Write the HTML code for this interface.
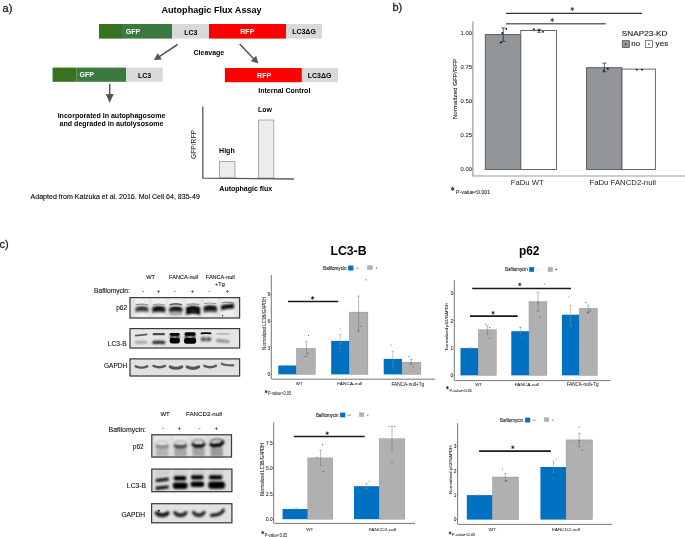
<!DOCTYPE html>
<html><head><meta charset="utf-8"><style>
html,body{margin:0;padding:0;background:#fff;}
body{width:685px;height:537px;overflow:hidden;font-family:"Liberation Sans",sans-serif;}
svg{display:block;will-change:transform;}
</style></head><body>
<svg width="685" height="537" viewBox="0 0 685 537" font-family="Liberation Sans, sans-serif">
<defs>
<filter id="b1" filterUnits="userSpaceOnUse" x="0" y="0" width="685" height="537"><feGaussianBlur stdDeviation="0.9"/></filter>
<filter id="b2" filterUnits="userSpaceOnUse" x="0" y="0" width="685" height="537"><feGaussianBlur stdDeviation="1.4"/></filter>
<filter id="b03" filterUnits="userSpaceOnUse" x="0" y="0" width="685" height="537"><feGaussianBlur stdDeviation="0.45"/></filter>
<linearGradient id="gd" x1="0" y1="0" x2="0" y2="1"><stop offset="0" stop-color="#000"/><stop offset="0.55" stop-color="#111"/><stop offset="1" stop-color="#666"/></linearGradient>
<linearGradient id="gm" x1="0" y1="0" x2="0" y2="1"><stop offset="0" stop-color="#222"/><stop offset="0.5" stop-color="#333"/><stop offset="1" stop-color="#888"/></linearGradient>
<filter id="b05" filterUnits="userSpaceOnUse" x="0" y="0" width="685" height="537"><feGaussianBlur stdDeviation="0.8"/></filter>
</defs>
<rect x="0" y="0" width="685" height="537" fill="#fff"/>
<text x="2.6" y="11.6" font-size="11" text-anchor="start" fill="#222" stroke="#222" stroke-width="0.3">a)</text>
<text x="211.5" y="12.5" font-size="9.1" font-weight="bold" text-anchor="middle" fill="#000">Autophagic Flux Assay</text>
<rect x="99" y="24" width="23" height="14.6" fill="#38721f"/>
<rect x="122" y="24" width="50" height="14.6" fill="#3a7a3e"/>
<rect x="172" y="24" width="37" height="14.6" fill="#d9d9d9"/>
<rect x="209" y="24" width="77" height="14.6" fill="#ff0000"/>
<rect x="286" y="24" width="36" height="14.6" fill="#d9d9d9"/>
<text x="133" y="34" font-size="7" font-weight="bold" text-anchor="middle" fill="#fff">GFP</text>
<text x="190.8" y="35" font-size="7" font-weight="bold" text-anchor="middle" fill="#000">LC3</text>
<text x="247.3" y="34" font-size="7" font-weight="bold" text-anchor="middle" fill="#fff">RFP</text>
<text x="304" y="34.2" font-size="7" font-weight="bold" text-anchor="middle" fill="#000">LC3ΔG</text>
<line x1="177.6" y1="44.5" x2="158.9117358078528" y2="56.801135923945004" stroke="#555" stroke-width="1.5"/>
<polygon points="153.9,60.1 157.69,53.12 161.81,59.38" fill="#555"/>
<line x1="239.7" y1="44.1" x2="254.14759816210315" y2="59.169000233591454" stroke="#555" stroke-width="1.5"/>
<polygon points="258.3,63.5 250.75,61.04 256.16,55.85" fill="#555"/>
<text x="208.9" y="55" font-size="7" font-weight="bold" text-anchor="middle" fill="#000">Cleavage</text>
<rect x="52.6" y="67.6" width="23.7" height="14.2" fill="#38721f"/>
<rect x="76.3" y="67.6" width="49.9" height="14.2" fill="#3a7a3e"/>
<rect x="126.2" y="67.6" width="36.5" height="14.2" fill="#d9d9d9"/>
<text x="86.8" y="76.7" font-size="7" font-weight="bold" text-anchor="middle" fill="#fff">GFP</text>
<text x="144.6" y="77.5" font-size="7" font-weight="bold" text-anchor="middle" fill="#000">LC3</text>
<rect x="224.9" y="68" width="77.0" height="14.2" fill="#ff0000"/>
<rect x="301.9" y="68" width="36.1" height="14.2" fill="#d9d9d9"/>
<text x="264.1" y="78" font-size="7" font-weight="bold" text-anchor="middle" fill="#fff">RFP</text>
<text x="319.6" y="77.8" font-size="7" font-weight="bold" text-anchor="middle" fill="#000">LC3ΔG</text>
<text x="284.3" y="92.6" font-size="7" font-weight="bold" text-anchor="middle" fill="#000">Internal Control</text>
<line x1="109.7" y1="83.7" x2="109.7" y2="94.9" stroke="#555" stroke-width="1.5"/>
<polygon points="109.7,102.9 105.80,93.90 113.60,93.90" fill="#555"/>
<text x="111.5" y="118" font-size="7.05" font-weight="bold" text-anchor="middle" fill="#000">Incorporated in autophagosome</text>
<text x="111.5" y="126" font-size="7.05" font-weight="bold" text-anchor="middle" fill="#000">and degraded in autolysosome</text>
<rect x="219.5" y="161.4" width="15.5" height="16.6" fill="#ececec" stroke="#999" stroke-width="0.8"/>
<rect x="258.4" y="120" width="15.4" height="58" fill="#ececec" stroke="#999" stroke-width="0.8"/>
<polyline points="202.8,106.4 202.8,178.2 293.9,179" fill="none" stroke="#5a5a5a" stroke-width="1.3"/>
<text x="226.9" y="152.5" font-size="7" font-weight="bold" text-anchor="middle" fill="#000">High</text>
<text x="264.9" y="111.7" font-size="7" font-weight="bold" text-anchor="middle" fill="#000">Low</text>
<text x="196.0" y="144.5" font-size="6.7" text-anchor="middle" fill="#222" transform="rotate(-90 196.0 144.5)">GFP/RFP</text>
<text x="245.8" y="190.9" font-size="7" font-weight="bold" text-anchor="middle" fill="#000">Autophagic flux</text>
<text x="115.2" y="199.1" font-size="7.05" text-anchor="middle" fill="#000" stroke="#000" stroke-width="0.1">Adapted from Kaizuka et al. 2016. Mol Cell 64, 835-49</text>
<text x="392.4" y="11.4" font-size="11" text-anchor="start" fill="#222" stroke="#222" stroke-width="0.3">b)</text>
<text x="466.3" y="171.0" font-size="5.8" text-anchor="middle" fill="#1a1a1a" textLength="11.4" lengthAdjust="spacingAndGlyphs" stroke="#1a1a1a" stroke-width="0.05">0.00</text>
<line x1="471.0" y1="169.0" x2="473" y2="169.0" stroke="#555" stroke-width="0.6"/>
<text x="466.3" y="136.95" font-size="5.8" text-anchor="middle" fill="#1a1a1a" textLength="11.4" lengthAdjust="spacingAndGlyphs" stroke="#1a1a1a" stroke-width="0.05">0.25</text>
<line x1="471.0" y1="134.95" x2="473" y2="134.95" stroke="#555" stroke-width="0.6"/>
<text x="466.3" y="102.9" font-size="5.8" text-anchor="middle" fill="#1a1a1a" textLength="11.4" lengthAdjust="spacingAndGlyphs" stroke="#1a1a1a" stroke-width="0.05">0.50</text>
<line x1="471.0" y1="100.9" x2="473" y2="100.9" stroke="#555" stroke-width="0.6"/>
<text x="466.3" y="68.85000000000001" font-size="5.8" text-anchor="middle" fill="#1a1a1a" textLength="11.4" lengthAdjust="spacingAndGlyphs" stroke="#1a1a1a" stroke-width="0.05">0.75</text>
<line x1="471.0" y1="66.85000000000001" x2="473" y2="66.85000000000001" stroke="#555" stroke-width="0.6"/>
<text x="466.3" y="34.80000000000001" font-size="5.8" text-anchor="middle" fill="#1a1a1a" textLength="11.4" lengthAdjust="spacingAndGlyphs" stroke="#1a1a1a" stroke-width="0.05">1.00</text>
<line x1="471.0" y1="32.80000000000001" x2="473" y2="32.80000000000001" stroke="#555" stroke-width="0.6"/>
<polyline points="472.9,21.2 472.9,176 685,176" fill="none" stroke="#9a9a9a" stroke-width="1.2"/>
<rect x="485.3" y="34.6" width="35.5" height="134.9" fill="#929699" stroke="#50555a" stroke-width="0.9"/>
<rect x="520.8" y="30.5" width="35.7" height="139.0" fill="#fff" stroke="#5a5a5a" stroke-width="0.9"/>
<rect x="586.6" y="67.7" width="35.4" height="101.8" fill="#929699" stroke="#50555a" stroke-width="0.9"/>
<rect x="622" y="69.1" width="33.4" height="100.4" fill="#fff" stroke="#5a5a5a" stroke-width="0.9"/>
<line x1="503.3" y1="27.9" x2="503.3" y2="41.4" stroke="#222" stroke-width="0.7"/>
<line x1="501.2" y1="27.9" x2="505.40000000000003" y2="27.9" stroke="#222" stroke-width="0.7"/>
<line x1="501.2" y1="41.4" x2="505.40000000000003" y2="41.4" stroke="#222" stroke-width="0.7"/>
<circle cx="506.3" cy="28.9" r="0.9" fill="#000"/>
<circle cx="502.3" cy="32.9" r="0.9" fill="#000"/>
<circle cx="500.8" cy="42.6" r="0.9" fill="#000"/>
<line x1="539.1" y1="29.3" x2="539.1" y2="32.3" stroke="#222" stroke-width="0.7"/>
<line x1="537.0" y1="29.3" x2="541.2" y2="29.3" stroke="#222" stroke-width="0.7"/>
<line x1="537.0" y1="32.3" x2="541.2" y2="32.3" stroke="#222" stroke-width="0.7"/>
<circle cx="533.9" cy="29.2" r="0.9" fill="#000"/>
<circle cx="543" cy="31.8" r="0.9" fill="#000"/>
<circle cx="539" cy="30.5" r="0.7" fill="#000"/>
<line x1="604.4" y1="63.1" x2="604.4" y2="71.8" stroke="#222" stroke-width="0.7"/>
<line x1="602.3" y1="63.1" x2="606.5" y2="63.1" stroke="#222" stroke-width="0.7"/>
<line x1="602.3" y1="71.8" x2="606.5" y2="71.8" stroke="#222" stroke-width="0.7"/>
<circle cx="607.8" cy="68.7" r="0.9" fill="#000"/>
<circle cx="603.5" cy="70.5" r="0.7" fill="#000"/>
<circle cx="636.8" cy="69.7" r="0.9" fill="#000"/>
<circle cx="642" cy="69.7" r="0.9" fill="#000"/>
<line x1="506.1" y1="13.3" x2="642.1" y2="13.3" stroke="#333" stroke-width="1.2"/>
<line x1="506.0" y1="23.7" x2="605.7" y2="23.7" stroke="#6a6a6a" stroke-width="1.4"/>
<line x1="572.30" y1="7.30" x2="572.30" y2="10.70" stroke="#222" stroke-width="0.7" stroke-linecap="round"/>
<line x1="570.83" y1="8.15" x2="573.77" y2="9.85" stroke="#222" stroke-width="0.7" stroke-linecap="round"/>
<line x1="573.77" y1="8.15" x2="570.83" y2="9.85" stroke="#222" stroke-width="0.7" stroke-linecap="round"/>
<line x1="552.30" y1="18.30" x2="552.30" y2="21.70" stroke="#222" stroke-width="0.7" stroke-linecap="round"/>
<line x1="550.83" y1="19.15" x2="553.77" y2="20.85" stroke="#222" stroke-width="0.7" stroke-linecap="round"/>
<line x1="553.77" y1="19.15" x2="550.83" y2="20.85" stroke="#222" stroke-width="0.7" stroke-linecap="round"/>
<text x="644.6" y="35.6" font-size="8.1" text-anchor="middle" fill="#222" textLength="45.6" lengthAdjust="spacingAndGlyphs" stroke="#222" stroke-width="0.12">SNAP23-KD</text>
<rect x="622.2" y="40.7" width="7.3" height="6.9" fill="#929699" stroke="#333" stroke-width="0.6"/>
<circle cx="625.85" cy="44.15" r="0.7" fill="#000"/>
<text x="635.7" y="46" font-size="8.1" text-anchor="middle" fill="#222" textLength="8.8" lengthAdjust="spacingAndGlyphs" stroke="#222" stroke-width="0.12">no</text>
<rect x="645.4" y="40.7" width="7.1" height="6.9" fill="#fff" stroke="#333" stroke-width="0.6"/>
<circle cx="648.95" cy="44.15" r="0.7" fill="#000"/>
<text x="661.9" y="46" font-size="8.1" text-anchor="middle" fill="#222" textLength="12.6" lengthAdjust="spacingAndGlyphs" stroke="#222" stroke-width="0.12">yes</text>
<text x="457.3" y="89" font-size="6.2" text-anchor="middle" fill="#222" transform="rotate(-90 457.3 89)" textLength="60.6" lengthAdjust="spacingAndGlyphs" stroke="#222" stroke-width="0.1">Normalized GFP/RFP</text>
<text x="527.2" y="184.6" font-size="7.6" text-anchor="middle" fill="#222" textLength="32.8" lengthAdjust="spacingAndGlyphs">FaDu WT</text>
<text x="622.7" y="184.6" font-size="7.7" text-anchor="middle" fill="#222" textLength="66.6" lengthAdjust="spacingAndGlyphs">FaDu FANCD2-null</text>
<line x1="452.70" y1="187.10" x2="452.70" y2="190.50" stroke="#111" stroke-width="0.8" stroke-linecap="round"/>
<line x1="451.23" y1="187.95" x2="454.17" y2="189.65" stroke="#111" stroke-width="0.8" stroke-linecap="round"/>
<line x1="454.17" y1="187.95" x2="451.23" y2="189.65" stroke="#111" stroke-width="0.8" stroke-linecap="round"/>
<text x="473.1" y="193.5" font-size="6.0" text-anchor="middle" fill="#111" textLength="34.2" lengthAdjust="spacingAndGlyphs" stroke="#111" stroke-width="0.05">P-value&lt;0.001</text>
<text x="-0.5" y="248.1" font-size="11" text-anchor="start" fill="#222" stroke="#222" stroke-width="0.3">c)</text>
<text x="150.6" y="279.1" font-size="5.6" text-anchor="middle" fill="#111" stroke="#111" stroke-width="0.1">WT</text>
<text x="183.6" y="279.3" font-size="5.55" text-anchor="middle" fill="#111" stroke="#111" stroke-width="0.1">FANCA-null</text>
<text x="220.3" y="279.3" font-size="5.55" text-anchor="middle" fill="#111" stroke="#111" stroke-width="0.1">FANCA-null</text>
<text x="219.9" y="285.8" font-size="5.55" text-anchor="middle" fill="#111" stroke="#111" stroke-width="0.1">+Tg</text>
<text x="112.0" y="293" font-size="6.65" text-anchor="middle" fill="#111" stroke="#111" stroke-width="0.1">Bafilomycin:</text>
<text x="142.9" y="293.1" font-size="6" text-anchor="middle" fill="#111" stroke="#111" stroke-width="0.1">-</text>
<text x="158.5" y="293.1" font-size="6" text-anchor="middle" fill="#111" stroke="#111" stroke-width="0.1">+</text>
<text x="174.8" y="293.1" font-size="6" text-anchor="middle" fill="#111" stroke="#111" stroke-width="0.1">-</text>
<text x="192.4" y="293.1" font-size="6" text-anchor="middle" fill="#111" stroke="#111" stroke-width="0.1">+</text>
<text x="209.6" y="293.1" font-size="6" text-anchor="middle" fill="#111" stroke="#111" stroke-width="0.1">-</text>
<text x="227.4" y="293.1" font-size="6" text-anchor="middle" fill="#111" stroke="#111" stroke-width="0.1">+</text>
<text x="121.6" y="309.8" font-size="6.5" text-anchor="middle" fill="#111" stroke="#111" stroke-width="0.1">p62</text>
<text x="117.2" y="345.8" font-size="6.6" text-anchor="middle" fill="#111" stroke="#111" stroke-width="0.1">LC3-B</text>
<text x="115.6" y="368.3" font-size="6.55" text-anchor="middle" fill="#111" stroke="#111" stroke-width="0.1">GAPDH</text>
<rect x="129.4" y="297" width="110.8" height="21.6" fill="#e2e2e2"/>
<rect x="135.1" y="298" width="13.6" height="19.6" fill="#efefef" filter="url(#b1)"/>
<rect x="152.0" y="298" width="13.6" height="19.6" fill="#efefef" filter="url(#b1)"/>
<rect x="169.0" y="298" width="13.6" height="19.6" fill="#efefef" filter="url(#b1)"/>
<rect x="186.29999999999998" y="298" width="13.6" height="19.6" fill="#efefef" filter="url(#b1)"/>
<rect x="203.5" y="298" width="13.6" height="19.6" fill="#efefef" filter="url(#b1)"/>
<rect x="220.7" y="298" width="13.6" height="19.6" fill="#efefef" filter="url(#b1)"/>
<rect x="135.9" y="306" width="12.0" height="6.5" fill="#aaa" fill-opacity="0.5" filter="url(#b1)"/>
<path d="M135.65,304.20 Q141.90,303.00 148.15,304.20 L148.15,305.40 Q141.90,304.20 135.65,305.40 Z" fill="#888" fill-opacity="0.9" filter="url(#b03)"/>
<path d="M135.40,308.00 Q141.90,305.20 148.40,308.00 L148.40,312.60 Q141.90,309.80 135.40,312.60 Z" fill="url(#gm)" fill-opacity="1" filter="url(#b05)"/>
<rect x="152.8" y="306" width="12.0" height="7" fill="#999" fill-opacity="0.5" filter="url(#b1)"/>
<path d="M152.80,304.20 Q158.80,303.00 164.80,304.20 L164.80,305.40 Q158.80,304.20 152.80,305.40 Z" fill="#999" fill-opacity="0.9" filter="url(#b03)"/>
<path d="M152.30,307.70 Q158.80,304.90 165.30,307.70 L165.30,313.10 Q158.80,310.30 152.30,313.10 Z" fill="url(#gd)" fill-opacity="1" filter="url(#b05)"/>
<rect x="169.8" y="309" width="12.0" height="6.5" fill="#777" fill-opacity="0.6" filter="url(#b1)"/>
<path d="M169.55,303.90 Q175.80,302.10 182.05,303.90 L182.05,305.70 Q175.80,303.90 169.55,305.70 Z" fill="#555" fill-opacity="0.9" filter="url(#b03)"/>
<path d="M169.30,308.00 Q175.80,305.20 182.30,308.00 L182.30,312.60 Q175.80,309.80 169.30,312.60 Z" fill="url(#gd)" fill-opacity="1" filter="url(#b05)"/>
<path d="M186.85,303.80 Q193.10,302.60 199.35,303.80 L199.35,305.00 Q193.10,303.80 186.85,305.00 Z" fill="#888" fill-opacity="0.9" filter="url(#b03)"/>
<path d="M186.10,307.30 Q193.10,304.30 200.10,307.30 L200.10,314.90 Q193.10,311.90 186.10,314.90 Z" fill="#050505" fill-opacity="1" filter="url(#b05)"/>
<ellipse cx="193.1" cy="310.5" rx="4.5" ry="1.3" fill="#3a3a3a" fill-opacity="0.8" filter="url(#b05)"/>
<rect x="204.3" y="306" width="12.0" height="7" fill="#888" fill-opacity="0.5" filter="url(#b1)"/>
<path d="M204.30,303.00 Q210.30,301.80 216.30,303.00 L216.30,304.20 Q210.30,303.00 204.30,304.20 Z" fill="#888" fill-opacity="0.9" filter="url(#b03)"/>
<path d="M203.80,306.80 Q210.30,304.20 216.80,306.80 L216.80,312.60 Q210.30,310.00 203.80,312.60 Z" fill="url(#gd)" fill-opacity="1" filter="url(#b05)"/>
<path d="M221.50,302.20 Q227.50,301.00 233.50,302.20 L233.50,303.40 Q227.50,302.20 221.50,303.40 Z" fill="#888" fill-opacity="0.9" filter="url(#b03)"/>
<path d="M221.00,305.50 Q227.50,303.40 234.00,303.70 L234.00,308.50 Q227.50,308.20 221.00,310.30 Z" fill="#0a0a0a" fill-opacity="1" filter="url(#b05)"/>
<circle cx="222.6" cy="315.8" r="0.7" fill="#333"/>
<rect x="130.0" y="297.6" width="109.6" height="20.4" fill="none" stroke="#3a3a3a" stroke-width="1.2"/>
<rect x="129.4" y="328.0" width="110.8" height="20.6" fill="#e6e6e6"/>
<path d="M134.95,334.70 Q141.20,334.50 147.45,333.50 L147.45,335.30 Q141.20,336.30 134.95,336.50 Z" fill="#555" fill-opacity="0.95" filter="url(#b03)"/>
<path d="M135.20,341.00 Q141.20,341.00 147.20,341.00 L147.20,343.80 Q141.20,343.80 135.20,343.80 Z" fill="#999" fill-opacity="0.9" filter="url(#b05)"/>
<path d="M152.80,333.00 Q158.80,333.00 164.80,333.00 L164.80,335.20 Q158.80,335.20 152.80,335.20 Z" fill="#444" fill-opacity="0.95" filter="url(#b03)"/>
<path d="M152.55,341.10 Q158.80,340.50 165.05,341.10 L165.05,344.10 Q158.80,343.50 152.55,344.10 Z" fill="#1a1a1a" fill-opacity="1" filter="url(#b05)"/>
<rect x="170.2" y="334.5" width="9.0" height="6.0" rx="0.5" ry="0.5" fill="#2a2a2a" filter="url(#b05)"/>
<ellipse cx="174.7" cy="337.4" rx="2.6" ry="1.5" fill="#b0b0b0" fill-opacity="1" filter="url(#b05)"/>
<rect x="169.8" y="332.9" width="9.8" height="2.8" rx="1.4" ry="1.4" fill="#000" filter="url(#b03)"/>
<rect x="169.8" y="337.9" width="10.0" height="5.6" rx="2.2" ry="2.2" fill="#000" filter="url(#b03)"/>
<rect x="185.0" y="334.5" width="10.2" height="6.0" rx="0.5" ry="0.5" fill="#2a2a2a" filter="url(#b05)"/>
<ellipse cx="190.1" cy="337.2" rx="3.4" ry="1.3" fill="#c0c0c0" fill-opacity="1" filter="url(#b05)"/>
<rect x="184.5" y="332.3" width="11.2" height="3.4" rx="1.6" ry="1.6" fill="#000" filter="url(#b03)"/>
<rect x="184.0" y="338.0" width="12.2" height="5.8" rx="2.4" ry="2.4" fill="#000" filter="url(#b03)"/>
<path d="M200.75,332.60 Q206.00,332.00 211.25,332.60 L211.25,334.30 Q206.00,333.70 200.75,334.30 Z" fill="#000" fill-opacity="1" filter="url(#b03)"/>
<ellipse cx="203.4" cy="339.2" rx="2.7" ry="2.2" fill="#555" fill-opacity="1" filter="url(#b05)"/>
<ellipse cx="208.6" cy="339.2" rx="2.7" ry="2.2" fill="#5a5a5a" fill-opacity="1" filter="url(#b05)"/>
<path d="M216.55,333.20 Q222.80,333.20 229.05,333.20 L229.05,334.70 Q222.80,334.70 216.55,334.70 Z" fill="#aaa" fill-opacity="0.9" filter="url(#b03)"/>
<path d="M216.30,339.10 Q222.80,339.70 229.30,340.30 L229.30,343.10 Q222.80,342.50 216.30,341.90 Z" fill="#777" fill-opacity="0.85" filter="url(#b05)"/>
<rect x="130.0" y="328.6" width="109.6" height="19.4" fill="none" stroke="#3a3a3a" stroke-width="1.2"/>
<rect x="129.4" y="358.3" width="110.8" height="18.3" fill="#e1e1e1"/>
<path d="M135.75,366.30 C139.20,367.84 143.80,367.84 147.25,366.30" fill="none" stroke="#5a5a5a" stroke-width="2.4" stroke-linecap="round" filter="url(#b03)"/>
<path d="M153.45,365.90 C156.90,367.44 161.50,367.44 164.95,365.90" fill="none" stroke="#5a5a5a" stroke-width="2.4" stroke-linecap="round" filter="url(#b03)"/>
<path d="M170.25,366.80 C173.70,368.56 178.30,368.56 181.75,366.80" fill="none" stroke="#555" stroke-width="3.0" stroke-linecap="round" filter="url(#b03)"/>
<path d="M187.15,366.90 C190.60,368.66 195.20,368.66 198.65,366.90" fill="none" stroke="#555" stroke-width="3.0" stroke-linecap="round" filter="url(#b03)"/>
<path d="M204.35,365.90 C207.80,367.44 212.40,367.44 215.85,365.90" fill="none" stroke="#5a5a5a" stroke-width="2.5" stroke-linecap="round" filter="url(#b03)"/>
<path d="M221.75,363.70 C225.20,365.38 229.80,365.38 233.25,365.30" fill="none" stroke="#5f5f5f" stroke-width="2.2" stroke-linecap="round" filter="url(#b03)"/>
<rect x="130.0" y="358.90000000000003" width="109.6" height="17.1" fill="none" stroke="#3a3a3a" stroke-width="1.2"/>
<text x="165.1" y="416.1" font-size="6.05" text-anchor="middle" fill="#111" stroke="#111" stroke-width="0.1">WT</text>
<text x="204.0" y="416.1" font-size="6.15" text-anchor="middle" fill="#111" stroke="#111" stroke-width="0.1">FANCD2-null</text>
<text x="127.3" y="431.7" font-size="6.95" text-anchor="middle" fill="#111" stroke="#111" stroke-width="0.1">Bafilomycin:</text>
<text x="162.7" y="429.5" font-size="6.2" text-anchor="middle" fill="#111" stroke="#111" stroke-width="0.1">-</text>
<text x="179.3" y="429.5" font-size="6.2" text-anchor="middle" fill="#111" stroke="#111" stroke-width="0.1">+</text>
<text x="199.6" y="429.5" font-size="6.2" text-anchor="middle" fill="#111" stroke="#111" stroke-width="0.1">-</text>
<text x="216.2" y="429.5" font-size="6.2" text-anchor="middle" fill="#111" stroke="#111" stroke-width="0.1">+</text>
<text x="138.2" y="449.2" font-size="6.5" text-anchor="middle" fill="#111" stroke="#111" stroke-width="0.1">p62</text>
<text x="136.5" y="487.8" font-size="6.8" text-anchor="middle" fill="#111" stroke="#111" stroke-width="0.1">LC3-B</text>
<text x="133.3" y="517.1" font-size="6.7" text-anchor="middle" fill="#111" stroke="#111" stroke-width="0.1">GAPDH</text>
<rect x="151.2" y="434.2" width="80.9" height="23.4" fill="#dddddd"/>
<rect x="155.39999999999998" y="435" width="13.6" height="21.8" fill="#e8e8e8" filter="url(#b1)"/>
<rect x="173.6" y="435" width="13.6" height="21.8" fill="#e8e8e8" filter="url(#b1)"/>
<rect x="191.7" y="435" width="13.6" height="21.8" fill="#e8e8e8" filter="url(#b1)"/>
<rect x="209.89999999999998" y="435" width="13.6" height="21.8" fill="#e8e8e8" filter="url(#b1)"/>
<rect x="155.89999999999998" y="447.5" width="12.6" height="9.0" fill="#aaa" fill-opacity="0.85" filter="url(#b1)"/>
<rect x="174.1" y="447.5" width="12.6" height="9.0" fill="#9a9a9a" fill-opacity="0.85" filter="url(#b1)"/>
<rect x="192.2" y="447.5" width="12.6" height="9.0" fill="#999" fill-opacity="0.85" filter="url(#b1)"/>
<rect x="210.39999999999998" y="447.5" width="12.6" height="9.0" fill="#8a8a8a" fill-opacity="0.85" filter="url(#b1)"/>
<path d="M156.20,442.70 Q159.20,440.10 162.20,441.40 Q165.20,440.10 168.20,442.70" fill="none" stroke="#c0c0c0" stroke-width="1.6" filter="url(#b05)"/>
<path d="M156.00,445.00 Q159.10,448.20 162.20,446.60 Q165.30,448.20 168.40,445.00" fill="none" stroke="#7a7a7a" stroke-width="2.8" filter="url(#b05)"/>
<path d="M174.40,442.90 Q177.40,440.30 180.40,441.60 Q183.40,440.30 186.40,442.90" fill="none" stroke="#b0b0b0" stroke-width="1.6" filter="url(#b05)"/>
<path d="M174.20,444.80 Q177.30,448.00 180.40,446.40 Q183.50,448.00 186.60,444.80" fill="none" stroke="#333" stroke-width="3.0" filter="url(#b05)"/>
<path d="M192.25,442.00 Q195.38,438.80 198.50,440.40 Q201.62,438.80 204.75,442.00" fill="none" stroke="#8a8a8a" stroke-width="1.8" filter="url(#b05)"/>
<path d="M192.20,443.40 Q195.35,447.80 198.50,445.60 Q201.65,447.80 204.80,443.40" fill="none" stroke="#000" stroke-width="3.2" filter="url(#b05)"/>
<path d="M210.20,441.90 Q213.45,438.20 216.70,439.80 Q219.95,438.20 223.20,440.90" fill="none" stroke="#6a6a6a" stroke-width="1.9" filter="url(#b05)"/>
<path d="M210.00,443.60 Q213.35,447.20 216.70,444.80 Q220.05,447.20 223.40,441.20" fill="none" stroke="#000" stroke-width="3.6" filter="url(#b05)"/>
<rect x="151.79999999999998" y="434.8" width="79.7" height="22.2" fill="none" stroke="#3a3a3a" stroke-width="1.2"/>
<rect x="151.2" y="468.5" width="81.3" height="23.8" fill="#dcdcdc"/>
<rect x="155.7" y="470" width="13.0" height="6" fill="#cfcfcf" filter="url(#b1)"/>
<rect x="173.9" y="470" width="13.0" height="6" fill="#cfcfcf" filter="url(#b1)"/>
<rect x="192.0" y="470" width="13.0" height="6" fill="#cfcfcf" filter="url(#b1)"/>
<rect x="210.2" y="470" width="13.0" height="6" fill="#cfcfcf" filter="url(#b1)"/>
<path d="M155.80,478.90 Q162.20,478.20 168.60,477.50 L168.60,480.80 Q162.20,481.50 155.80,482.20 Z" fill="#0a0a0a" fill-opacity="1" filter="url(#b05)"/>
<path d="M155.80,486.60 Q162.20,485.90 168.60,485.20 L168.60,488.60 Q162.20,489.30 155.80,490.00 Z" fill="#111" fill-opacity="1" filter="url(#b05)"/>
<rect x="173.6" y="475.9" width="12.8" height="4.6" rx="2.0" ry="2.0" fill="#000" filter="url(#b05)"/>
<rect x="172.8" y="482.6" width="14.8" height="6.3" rx="2.8" ry="2.8" fill="#000" filter="url(#b05)"/>
<rect x="190.9" y="475.3" width="12.6" height="4.1" rx="1.8" ry="1.8" fill="#000" filter="url(#b05)"/>
<rect x="190.6" y="481.6" width="13.6" height="5.5" rx="2.5" ry="2.5" fill="#000" filter="url(#b05)"/>
<rect x="208.9" y="475.3" width="13.5" height="4.2" rx="1.8" ry="1.8" fill="#000" filter="url(#b05)"/>
<rect x="208.2" y="481.6" width="16.8" height="7.2" rx="3.2" ry="3.2" fill="#000" filter="url(#b05)"/>
<rect x="151.79999999999998" y="469.1" width="80.1" height="22.6" fill="none" stroke="#3a3a3a" stroke-width="1.2"/>
<rect x="151.0" y="503.1" width="81.5" height="20.3" fill="#e2e2e2"/>
<ellipse cx="162.2" cy="516.0" rx="5.2" ry="1.6" fill="#999" fill-opacity="0.8" filter="url(#b1)"/>
<ellipse cx="180.4" cy="516.0" rx="5.2" ry="1.6" fill="#999" fill-opacity="0.8" filter="url(#b1)"/>
<ellipse cx="198.8" cy="516.0" rx="5.2" ry="1.6" fill="#999" fill-opacity="0.8" filter="url(#b1)"/>
<path d="M156.60,513.00 C158.84,515.60 165.56,515.60 167.80,513.00" fill="none" stroke="#111" stroke-width="3.6" stroke-linecap="round" filter="url(#b05)"/>
<circle cx="158.9" cy="510.8" r="1.0" fill="#111"/>
<path d="M174.90,512.70 C177.10,516.10 183.70,516.10 185.90,512.70" fill="none" stroke="#1e1e1e" stroke-width="3.3" stroke-linecap="round" filter="url(#b05)"/>
<path d="M193.50,512.50 C195.62,515.90 201.98,515.90 204.10,512.50" fill="none" stroke="#1e1e1e" stroke-width="3.3" stroke-linecap="round" filter="url(#b05)"/>
<path d="M211.40,515.40 C213.80,515.20 221.00,515.20 223.40,510.20" fill="none" stroke="#1e1e1e" stroke-width="3.2" stroke-linecap="round" filter="url(#b05)"/>
<rect x="151.6" y="503.70000000000005" width="80.3" height="19.1" fill="none" stroke="#3a3a3a" stroke-width="1.2"/>
<text x="348.5" y="255.1" font-size="12.3" font-weight="bold" text-anchor="middle" fill="#000">LC3-B</text>
<text x="334.8" y="269.8" font-size="5.0" text-anchor="middle" fill="#1a1a1a" textLength="23.4" lengthAdjust="spacingAndGlyphs" stroke="#1a1a1a" stroke-width="0.1">Bafilomycin</text>
<rect x="348.1" y="265.6" width="5.4" height="4.9" fill="#0070c0"/>
<line x1="355.7" y1="268.2" x2="359.0" y2="268.2" stroke="#555" stroke-width="0.6"/>
<rect x="367.1" y="265.4" width="5.6" height="4.4" fill="#b0b0b0"/>
<line x1="376.0" y1="268.2" x2="377.20000000000005" y2="268.2" stroke="#444" stroke-width="0.55"/>
<line x1="376.6" y1="267.59999999999997" x2="376.6" y2="268.8" stroke="#444" stroke-width="0.55"/>
<path d="M271.3,275.0 L271.3,378.4 Q271.3,379.2 272.1,379.2 L434.9,379.2" fill="none" stroke="#666" stroke-width="0.9"/>
<line x1="270.40000000000003" y1="374.4" x2="271.3" y2="374.4" stroke="#444" stroke-width="0.5"/>
<text x="270.2" y="376.12" font-size="4.8" text-anchor="end" fill="#1a1a1a" stroke="#1a1a1a" stroke-width="0.06">0</text>
<line x1="270.40000000000003" y1="347.78999999999996" x2="271.3" y2="347.78999999999996" stroke="#444" stroke-width="0.5"/>
<text x="270.2" y="349.51" font-size="4.8" text-anchor="end" fill="#1a1a1a" stroke="#1a1a1a" stroke-width="0.06">3</text>
<line x1="270.40000000000003" y1="321.17999999999995" x2="271.3" y2="321.17999999999995" stroke="#444" stroke-width="0.5"/>
<text x="270.2" y="322.9" font-size="4.8" text-anchor="end" fill="#1a1a1a" stroke="#1a1a1a" stroke-width="0.06">6</text>
<line x1="270.40000000000003" y1="294.57" x2="271.3" y2="294.57" stroke="#444" stroke-width="0.5"/>
<text x="270.2" y="296.29" font-size="4.8" text-anchor="end" fill="#1a1a1a" stroke="#1a1a1a" stroke-width="0.06">9</text>
<rect x="278.3" y="365.5" width="18.1" height="8.9" fill="#0070c0"/>
<rect x="296.4" y="348.3" width="19.0" height="26.1" fill="#b0b0b0" stroke="#888" stroke-width="0.4"/>
<rect x="331.2" y="340.9" width="18.1" height="33.5" fill="#0070c0"/>
<rect x="349.3" y="312.1" width="18.6" height="62.3" fill="#b0b0b0" stroke="#888" stroke-width="0.4"/>
<rect x="383.7" y="358.9" width="18.3" height="15.5" fill="#0070c0"/>
<rect x="402.0" y="362.2" width="18.9" height="12.2" fill="#b0b0b0" stroke="#888" stroke-width="0.4"/>
<line x1="287.3" y1="365.2" x2="287.3" y2="365.8" stroke="#888" stroke-width="0.45"/>
<line x1="286.0" y1="365.2" x2="288.6" y2="365.2" stroke="#888" stroke-width="0.45"/>
<line x1="286.0" y1="365.8" x2="288.6" y2="365.8" stroke="#888" stroke-width="0.45"/>
<circle cx="286.5" cy="365.5" r="0.4" fill="#999"/>
<circle cx="288.5" cy="365.5" r="0.4" fill="#999"/>
<line x1="306.5" y1="341.6" x2="306.5" y2="356.5" stroke="#666" stroke-width="0.45"/>
<line x1="305.2" y1="341.6" x2="307.8" y2="341.6" stroke="#666" stroke-width="0.45"/>
<line x1="305.2" y1="356.5" x2="307.8" y2="356.5" stroke="#666" stroke-width="0.45"/>
<circle cx="308.5" cy="335.5" r="0.6" fill="#555"/>
<circle cx="304.2" cy="356.5" r="0.6" fill="#555"/>
<circle cx="308.0" cy="353.4" r="0.6" fill="#555"/>
<line x1="340.2" y1="334.4" x2="340.2" y2="348.4" stroke="#888" stroke-width="0.45"/>
<line x1="338.9" y1="334.4" x2="341.5" y2="334.4" stroke="#888" stroke-width="0.45"/>
<line x1="338.9" y1="348.4" x2="341.5" y2="348.4" stroke="#888" stroke-width="0.45"/>
<circle cx="340.2" cy="328.8" r="0.6" fill="#888"/>
<circle cx="341.6" cy="342.6" r="0.6" fill="#888"/>
<circle cx="340.2" cy="351.4" r="0.6" fill="#888"/>
<line x1="358.6" y1="296.0" x2="358.6" y2="331.0" stroke="#666" stroke-width="0.45"/>
<line x1="357.3" y1="296.0" x2="359.90000000000003" y2="296.0" stroke="#666" stroke-width="0.45"/>
<line x1="357.3" y1="331.0" x2="359.90000000000003" y2="331.0" stroke="#666" stroke-width="0.45"/>
<circle cx="366.0" cy="279.8" r="0.6" fill="#555"/>
<circle cx="358.4" cy="331.0" r="0.6" fill="#555"/>
<circle cx="360.9" cy="326.3" r="0.6" fill="#555"/>
<line x1="392.8" y1="351.2" x2="392.8" y2="367.0" stroke="#888" stroke-width="0.45"/>
<line x1="391.5" y1="351.2" x2="394.1" y2="351.2" stroke="#888" stroke-width="0.45"/>
<line x1="391.5" y1="367.0" x2="394.1" y2="367.0" stroke="#888" stroke-width="0.45"/>
<circle cx="390.9" cy="344.9" r="0.6" fill="#888"/>
<circle cx="393.3" cy="361.6" r="0.6" fill="#888"/>
<circle cx="393.3" cy="369.3" r="0.6" fill="#888"/>
<line x1="411.4" y1="359.3" x2="411.4" y2="364.7" stroke="#666" stroke-width="0.45"/>
<line x1="410.09999999999997" y1="359.3" x2="412.7" y2="359.3" stroke="#666" stroke-width="0.45"/>
<line x1="410.09999999999997" y1="364.7" x2="412.7" y2="364.7" stroke="#666" stroke-width="0.45"/>
<circle cx="409.0" cy="356.5" r="0.6" fill="#555"/>
<circle cx="410.2" cy="363.5" r="0.6" fill="#555"/>
<circle cx="413.3" cy="367.0" r="0.6" fill="#555"/>
<line x1="288.0" y1="301.5" x2="338.2" y2="301.5" stroke="#1a1a1a" stroke-width="1.7"/>
<line x1="312.60" y1="296.60" x2="312.60" y2="299.20" stroke="#1a1a1a" stroke-width="0.85" stroke-linecap="round"/>
<line x1="311.47" y1="297.25" x2="313.73" y2="298.55" stroke="#1a1a1a" stroke-width="0.85" stroke-linecap="round"/>
<line x1="313.73" y1="297.25" x2="311.47" y2="298.55" stroke="#1a1a1a" stroke-width="0.85" stroke-linecap="round"/>
<text x="265.57" y="323.5" font-size="4.5" text-anchor="middle" fill="#1a1a1a" transform="rotate(-90 265.57 323.5)" textLength="52.75" lengthAdjust="spacingAndGlyphs" stroke="#1a1a1a" stroke-width="0.05">Normalized LC3B/GAPDH</text>
<text x="299.3" y="385.2" font-size="4.3" text-anchor="middle" fill="#1a1a1a" textLength="6.83" lengthAdjust="spacingAndGlyphs" stroke="#1a1a1a" stroke-width="0.03">WT</text>
<text x="349.7" y="385.4" font-size="4.4" text-anchor="middle" fill="#1a1a1a" textLength="25.24" lengthAdjust="spacingAndGlyphs" stroke="#1a1a1a" stroke-width="0.03">FANCA-null</text>
<text x="407.8" y="385.9" font-size="4.5" text-anchor="middle" fill="#1a1a1a" textLength="32.85" lengthAdjust="spacingAndGlyphs" stroke="#1a1a1a" stroke-width="0.03">FANCA-null+Tg</text>
<line x1="266.10" y1="390.45" x2="266.10" y2="392.95" stroke="#111" stroke-width="0.7" stroke-linecap="round"/>
<line x1="265.02" y1="391.07" x2="267.18" y2="392.32" stroke="#111" stroke-width="0.7" stroke-linecap="round"/>
<line x1="267.18" y1="391.07" x2="265.02" y2="392.32" stroke="#111" stroke-width="0.7" stroke-linecap="round"/>
<text x="279.6" y="395.2" font-size="4.6" text-anchor="middle" fill="#1a1a1a" textLength="23.26" lengthAdjust="spacingAndGlyphs" stroke="#1a1a1a" stroke-width="0.03">P-value&lt;0.05</text>
<text x="529.2" y="254.7" font-size="11.9" font-weight="bold" text-anchor="middle" fill="#000">p62</text>
<text x="516.45" y="271.2" font-size="5.0" text-anchor="middle" fill="#1a1a1a" textLength="22.7" lengthAdjust="spacingAndGlyphs" stroke="#1a1a1a" stroke-width="0.1">Bafilomycin</text>
<rect x="529.2" y="267.1" width="4.9" height="4.7" fill="#0070c0"/>
<line x1="536.4" y1="269.9" x2="539.3" y2="269.9" stroke="#bbb" stroke-width="0.6"/>
<rect x="547.7" y="267.1" width="5.1" height="4.7" fill="#b0b0b0"/>
<line x1="555.15" y1="269.5" x2="557.15" y2="269.5" stroke="#222" stroke-width="0.55"/>
<line x1="556.15" y1="268.5" x2="556.15" y2="270.5" stroke="#222" stroke-width="0.55"/>
<path d="M454.3,280.3 L454.3,379.8 Q454.3,380.6 455.1,380.6 L610.7,380.6" fill="none" stroke="#666" stroke-width="0.9"/>
<line x1="453.40000000000003" y1="375.4" x2="454.3" y2="375.4" stroke="#444" stroke-width="0.5"/>
<text x="453.2" y="377.12" font-size="4.8" text-anchor="end" fill="#1a1a1a" stroke="#1a1a1a" stroke-width="0.06">0</text>
<line x1="453.40000000000003" y1="348.09999999999997" x2="454.3" y2="348.09999999999997" stroke="#444" stroke-width="0.5"/>
<text x="453.2" y="349.82" font-size="4.8" text-anchor="end" fill="#1a1a1a" stroke="#1a1a1a" stroke-width="0.06">1</text>
<line x1="453.40000000000003" y1="320.79999999999995" x2="454.3" y2="320.79999999999995" stroke="#444" stroke-width="0.5"/>
<text x="453.2" y="322.52" font-size="4.8" text-anchor="end" fill="#1a1a1a" stroke="#1a1a1a" stroke-width="0.06">2</text>
<line x1="453.40000000000003" y1="293.5" x2="454.3" y2="293.5" stroke="#444" stroke-width="0.5"/>
<text x="453.2" y="295.22" font-size="4.8" text-anchor="end" fill="#1a1a1a" stroke="#1a1a1a" stroke-width="0.06">3</text>
<rect x="460.5" y="348.1" width="17.9" height="27.3" fill="#0070c0"/>
<rect x="478.4" y="329.8" width="17.9" height="45.6" fill="#b0b0b0" stroke="#888" stroke-width="0.4"/>
<rect x="511.3" y="331.2" width="17.7" height="44.2" fill="#0070c0"/>
<rect x="529.0" y="301.7" width="17.9" height="73.7" fill="#b0b0b0" stroke="#888" stroke-width="0.4"/>
<rect x="561.9" y="314.7" width="17.5" height="60.7" fill="#0070c0"/>
<rect x="579.4" y="308.4" width="17.9" height="67.0" fill="#b0b0b0" stroke="#888" stroke-width="0.4"/>
<line x1="469.4" y1="347.8" x2="469.4" y2="348.4" stroke="#888" stroke-width="0.45"/>
<line x1="468.09999999999997" y1="347.8" x2="470.7" y2="347.8" stroke="#888" stroke-width="0.45"/>
<line x1="468.09999999999997" y1="348.4" x2="470.7" y2="348.4" stroke="#888" stroke-width="0.45"/>
<circle cx="468.5" cy="348.1" r="0.4" fill="#999"/>
<circle cx="470.5" cy="348.1" r="0.4" fill="#999"/>
<line x1="487.3" y1="325.8" x2="487.3" y2="334.7" stroke="#666" stroke-width="0.45"/>
<line x1="486.0" y1="325.8" x2="488.6" y2="325.8" stroke="#666" stroke-width="0.45"/>
<line x1="486.0" y1="334.7" x2="488.6" y2="334.7" stroke="#666" stroke-width="0.45"/>
<circle cx="485.3" cy="324.0" r="0.6" fill="#555"/>
<circle cx="489.6" cy="327.6" r="0.6" fill="#555"/>
<circle cx="489.6" cy="338.5" r="0.6" fill="#555"/>
<line x1="520.4" y1="327.3" x2="520.4" y2="334.0" stroke="#888" stroke-width="0.45"/>
<line x1="519.1" y1="327.3" x2="521.6999999999999" y2="327.3" stroke="#888" stroke-width="0.45"/>
<line x1="519.1" y1="334.0" x2="521.6999999999999" y2="334.0" stroke="#888" stroke-width="0.45"/>
<circle cx="520.4" cy="327.3" r="0.6" fill="#888"/>
<circle cx="522.0" cy="336.5" r="0.6" fill="#888"/>
<line x1="538.0" y1="292.3" x2="538.0" y2="311.3" stroke="#666" stroke-width="0.45"/>
<line x1="536.7" y1="292.3" x2="539.3" y2="292.3" stroke="#666" stroke-width="0.45"/>
<line x1="536.7" y1="311.3" x2="539.3" y2="311.3" stroke="#666" stroke-width="0.45"/>
<circle cx="538.0" cy="303.0" r="0.6" fill="#555"/>
<circle cx="540.2" cy="316.9" r="0.6" fill="#555"/>
<circle cx="544.7" cy="284.0" r="0.6" fill="#555"/>
<line x1="570.4" y1="305.3" x2="570.4" y2="324.7" stroke="#888" stroke-width="0.45"/>
<line x1="569.1" y1="305.3" x2="571.6999999999999" y2="305.3" stroke="#888" stroke-width="0.45"/>
<line x1="569.1" y1="324.7" x2="571.6999999999999" y2="324.7" stroke="#888" stroke-width="0.45"/>
<circle cx="568.8" cy="296.8" r="0.6" fill="#888"/>
<circle cx="570.4" cy="321.0" r="0.6" fill="#888"/>
<circle cx="571.5" cy="325.9" r="0.6" fill="#888"/>
<line x1="588.3" y1="305.3" x2="588.3" y2="313.1" stroke="#666" stroke-width="0.45"/>
<line x1="587.0" y1="305.3" x2="589.5999999999999" y2="305.3" stroke="#666" stroke-width="0.45"/>
<line x1="587.0" y1="313.1" x2="589.5999999999999" y2="313.1" stroke="#666" stroke-width="0.45"/>
<circle cx="586.0" cy="302.4" r="0.6" fill="#555"/>
<circle cx="587.2" cy="312.4" r="0.6" fill="#555"/>
<circle cx="590.1" cy="310.9" r="0.6" fill="#555"/>
<line x1="472.2" y1="288.5" x2="571.0" y2="288.5" stroke="#1a1a1a" stroke-width="1.7"/>
<line x1="519.80" y1="283.10" x2="519.80" y2="285.70" stroke="#1a1a1a" stroke-width="0.85" stroke-linecap="round"/>
<line x1="518.67" y1="283.75" x2="520.93" y2="285.05" stroke="#1a1a1a" stroke-width="0.85" stroke-linecap="round"/>
<line x1="520.93" y1="283.75" x2="518.67" y2="285.05" stroke="#1a1a1a" stroke-width="0.85" stroke-linecap="round"/>
<line x1="470.1" y1="316.2" x2="517.7" y2="316.2" stroke="#1a1a1a" stroke-width="1.7"/>
<line x1="493.10" y1="311.50" x2="493.10" y2="314.10" stroke="#1a1a1a" stroke-width="0.85" stroke-linecap="round"/>
<line x1="491.97" y1="312.15" x2="494.23" y2="313.45" stroke="#1a1a1a" stroke-width="0.85" stroke-linecap="round"/>
<line x1="494.23" y1="312.15" x2="491.97" y2="313.45" stroke="#1a1a1a" stroke-width="0.85" stroke-linecap="round"/>
<text x="448.14" y="326.5" font-size="4.4" text-anchor="middle" fill="#1a1a1a" transform="rotate(-90 448.14 326.5)" textLength="47.74" lengthAdjust="spacingAndGlyphs" stroke="#1a1a1a" stroke-width="0.05">Normalized p62/GAPDH</text>
<text x="478.65" y="385.7" font-size="4.3" text-anchor="middle" fill="#1a1a1a" textLength="6.73" lengthAdjust="spacingAndGlyphs" stroke="#1a1a1a" stroke-width="0.03">WT</text>
<text x="526.95" y="385.7" font-size="4.4" text-anchor="middle" fill="#1a1a1a" textLength="24.54" lengthAdjust="spacingAndGlyphs" stroke="#1a1a1a" stroke-width="0.03">FANCA-null</text>
<text x="582.6" y="386.2" font-size="4.5" text-anchor="middle" fill="#1a1a1a" textLength="31.85" lengthAdjust="spacingAndGlyphs" stroke="#1a1a1a" stroke-width="0.03">FANCA-null+Tg</text>
<line x1="447.40" y1="386.50" x2="447.40" y2="388.90" stroke="#111" stroke-width="0.7" stroke-linecap="round"/>
<line x1="446.36" y1="387.10" x2="448.44" y2="388.30" stroke="#111" stroke-width="0.7" stroke-linecap="round"/>
<line x1="448.44" y1="387.10" x2="446.36" y2="388.30" stroke="#111" stroke-width="0.7" stroke-linecap="round"/>
<text x="460.7" y="391.9" font-size="4.2" text-anchor="middle" fill="#1a1a1a" textLength="22.62" lengthAdjust="spacingAndGlyphs" stroke="#1a1a1a" stroke-width="0.03">P-value&lt;0.05</text>
<text x="327.2" y="416.6" font-size="5.0" text-anchor="middle" fill="#1a1a1a" textLength="22.6" lengthAdjust="spacingAndGlyphs" stroke="#1a1a1a" stroke-width="0.1">Bafilomycin</text>
<rect x="340.1" y="412.6" width="5.2" height="4.7" fill="#0070c0"/>
<line x1="347.4" y1="415.2" x2="350.8" y2="415.2" stroke="#555" stroke-width="0.6"/>
<rect x="359.1" y="412.4" width="4.9" height="4.4" fill="#b0b0b0"/>
<line x1="367.2" y1="415.2" x2="368.40000000000003" y2="415.2" stroke="#444" stroke-width="0.55"/>
<line x1="367.8" y1="414.59999999999997" x2="367.8" y2="415.8" stroke="#444" stroke-width="0.55"/>
<path d="M273.7,422.5 L273.7,522.6 Q273.7,523.4 274.5,523.4 L415.0,523.4" fill="none" stroke="#666" stroke-width="0.9"/>
<line x1="272.8" y1="519.2" x2="273.7" y2="519.2" stroke="#444" stroke-width="0.5"/>
<text x="272.59999999999997" y="520.92" font-size="4.8" text-anchor="end" fill="#1a1a1a" stroke="#1a1a1a" stroke-width="0.06">0.0</text>
<line x1="272.8" y1="493.82500000000005" x2="273.7" y2="493.82500000000005" stroke="#444" stroke-width="0.5"/>
<text x="272.59999999999997" y="495.55" font-size="4.8" text-anchor="end" fill="#1a1a1a" stroke="#1a1a1a" stroke-width="0.06">2.5</text>
<line x1="272.8" y1="468.45000000000005" x2="273.7" y2="468.45000000000005" stroke="#444" stroke-width="0.5"/>
<text x="272.59999999999997" y="470.17" font-size="4.8" text-anchor="end" fill="#1a1a1a" stroke="#1a1a1a" stroke-width="0.06">5.0</text>
<line x1="272.8" y1="443.07500000000005" x2="273.7" y2="443.07500000000005" stroke="#444" stroke-width="0.5"/>
<text x="272.59999999999997" y="444.8" font-size="4.8" text-anchor="end" fill="#1a1a1a" stroke="#1a1a1a" stroke-width="0.06">7.5</text>
<rect x="282.6" y="509.0" width="25.2" height="10.2" fill="#0070c0"/>
<rect x="307.8" y="457.9" width="25.0" height="61.3" fill="#b0b0b0" stroke="#888" stroke-width="0.4"/>
<rect x="354.0" y="486.2" width="25.3" height="33.0" fill="#0070c0"/>
<rect x="379.3" y="438.8" width="25.5" height="80.4" fill="#b0b0b0" stroke="#888" stroke-width="0.4"/>
<line x1="296.0" y1="508.7" x2="296.0" y2="509.3" stroke="#888" stroke-width="0.45"/>
<line x1="294.7" y1="508.7" x2="297.3" y2="508.7" stroke="#888" stroke-width="0.45"/>
<line x1="294.7" y1="509.3" x2="297.3" y2="509.3" stroke="#888" stroke-width="0.45"/>
<circle cx="295.0" cy="509.0" r="0.4" fill="#999"/>
<circle cx="297.1" cy="509.0" r="0.4" fill="#999"/>
<line x1="320.6" y1="450.3" x2="320.6" y2="465.6" stroke="#666" stroke-width="0.45"/>
<line x1="319.3" y1="450.3" x2="321.90000000000003" y2="450.3" stroke="#666" stroke-width="0.45"/>
<line x1="319.3" y1="465.6" x2="321.90000000000003" y2="465.6" stroke="#666" stroke-width="0.45"/>
<circle cx="322.6" cy="444.7" r="0.6" fill="#555"/>
<circle cx="317.0" cy="457.4" r="0.6" fill="#555"/>
<circle cx="323.4" cy="471.4" r="0.6" fill="#555"/>
<line x1="366.5" y1="483.4" x2="366.5" y2="488.8" stroke="#888" stroke-width="0.45"/>
<line x1="365.2" y1="483.4" x2="367.8" y2="483.4" stroke="#888" stroke-width="0.45"/>
<line x1="365.2" y1="488.8" x2="367.8" y2="488.8" stroke="#888" stroke-width="0.45"/>
<circle cx="369.3" cy="481.1" r="0.6" fill="#888"/>
<circle cx="366.5" cy="488.8" r="0.6" fill="#888"/>
<line x1="392.0" y1="426.3" x2="392.0" y2="451.0" stroke="#666" stroke-width="0.45"/>
<line x1="390.7" y1="426.3" x2="393.3" y2="426.3" stroke="#666" stroke-width="0.45"/>
<line x1="390.7" y1="451.0" x2="393.3" y2="451.0" stroke="#666" stroke-width="0.45"/>
<circle cx="389.0" cy="426.3" r="0.6" fill="#555"/>
<circle cx="394.8" cy="426.3" r="0.6" fill="#555"/>
<circle cx="392.0" cy="463.0" r="0.6" fill="#555"/>
<line x1="293.8" y1="436.5" x2="364.7" y2="436.5" stroke="#1a1a1a" stroke-width="1.7"/>
<line x1="327.20" y1="431.90" x2="327.20" y2="434.50" stroke="#1a1a1a" stroke-width="0.85" stroke-linecap="round"/>
<line x1="326.07" y1="432.55" x2="328.33" y2="433.85" stroke="#1a1a1a" stroke-width="0.85" stroke-linecap="round"/>
<line x1="328.33" y1="432.55" x2="326.07" y2="433.85" stroke="#1a1a1a" stroke-width="0.85" stroke-linecap="round"/>
<text x="264.37" y="469.5" font-size="4.5" text-anchor="middle" fill="#1a1a1a" transform="rotate(-90 264.37 469.5)" textLength="52.55" lengthAdjust="spacingAndGlyphs" stroke="#1a1a1a" stroke-width="0.05">Normalized LC3B/GAPDH</text>
<text x="309.85" y="531.3" font-size="4.3" text-anchor="middle" fill="#1a1a1a" textLength="6.93" lengthAdjust="spacingAndGlyphs" stroke="#1a1a1a" stroke-width="0.03">WT</text>
<text x="382.5" y="531.3" font-size="4.4" text-anchor="middle" fill="#1a1a1a" textLength="27.64" lengthAdjust="spacingAndGlyphs" stroke="#1a1a1a" stroke-width="0.03">FANCD2-null</text>
<line x1="262.80" y1="531.30" x2="262.80" y2="533.90" stroke="#111" stroke-width="0.7" stroke-linecap="round"/>
<line x1="261.67" y1="531.95" x2="263.93" y2="533.25" stroke="#111" stroke-width="0.7" stroke-linecap="round"/>
<line x1="263.93" y1="531.95" x2="261.67" y2="533.25" stroke="#111" stroke-width="0.7" stroke-linecap="round"/>
<text x="275.95" y="537.3" font-size="4.8" text-anchor="middle" fill="#1a1a1a" textLength="22.38" lengthAdjust="spacingAndGlyphs" stroke="#1a1a1a" stroke-width="0.03">P-value&lt;0.05</text>
<text x="511.55" y="421.6" font-size="5.0" text-anchor="middle" fill="#1a1a1a" textLength="22.9" lengthAdjust="spacingAndGlyphs" stroke="#1a1a1a" stroke-width="0.1">Bafilomycin</text>
<rect x="525.1" y="417.6" width="5.1" height="4.9" fill="#0070c0"/>
<line x1="532.4" y1="420.2" x2="535.7" y2="420.2" stroke="#555" stroke-width="0.6"/>
<rect x="544.1" y="417.4" width="4.9" height="4.4" fill="#b0b0b0"/>
<line x1="552.1999999999999" y1="420.2" x2="553.4" y2="420.2" stroke="#444" stroke-width="0.55"/>
<line x1="552.8" y1="419.59999999999997" x2="552.8" y2="420.8" stroke="#444" stroke-width="0.55"/>
<path d="M457.6,423.1 L457.6,523.6 Q457.6,524.4 458.40000000000003,524.4 L612.0,524.4" fill="none" stroke="#666" stroke-width="0.9"/>
<line x1="456.70000000000005" y1="519.6" x2="457.6" y2="519.6" stroke="#444" stroke-width="0.5"/>
<text x="456.5" y="521.32" font-size="4.8" text-anchor="end" fill="#1a1a1a" stroke="#1a1a1a" stroke-width="0.06">0</text>
<line x1="456.70000000000005" y1="495.20000000000005" x2="457.6" y2="495.20000000000005" stroke="#444" stroke-width="0.5"/>
<text x="456.5" y="496.92" font-size="4.8" text-anchor="end" fill="#1a1a1a" stroke="#1a1a1a" stroke-width="0.06">1</text>
<line x1="456.70000000000005" y1="470.8" x2="457.6" y2="470.8" stroke="#444" stroke-width="0.5"/>
<text x="456.5" y="472.52" font-size="4.8" text-anchor="end" fill="#1a1a1a" stroke="#1a1a1a" stroke-width="0.06">2</text>
<line x1="456.70000000000005" y1="446.40000000000003" x2="457.6" y2="446.40000000000003" stroke="#444" stroke-width="0.5"/>
<text x="456.5" y="448.12" font-size="4.8" text-anchor="end" fill="#1a1a1a" stroke="#1a1a1a" stroke-width="0.06">3</text>
<rect x="466.8" y="495.1" width="25.7" height="24.5" fill="#0070c0"/>
<rect x="492.5" y="477.0" width="26.0" height="42.6" fill="#b0b0b0" stroke="#888" stroke-width="0.4"/>
<rect x="540.4" y="467.0" width="25.7" height="52.6" fill="#0070c0"/>
<rect x="566.1" y="439.9" width="26.4" height="79.7" fill="#b0b0b0" stroke="#888" stroke-width="0.4"/>
<line x1="479.6" y1="494.8" x2="479.6" y2="495.4" stroke="#888" stroke-width="0.45"/>
<line x1="478.3" y1="494.8" x2="480.90000000000003" y2="494.8" stroke="#888" stroke-width="0.45"/>
<line x1="478.3" y1="495.4" x2="480.90000000000003" y2="495.4" stroke="#888" stroke-width="0.45"/>
<circle cx="478.6" cy="495.1" r="0.4" fill="#999"/>
<circle cx="480.6" cy="495.1" r="0.4" fill="#999"/>
<line x1="505.4" y1="473.6" x2="505.4" y2="481.5" stroke="#666" stroke-width="0.45"/>
<line x1="504.09999999999997" y1="473.6" x2="506.7" y2="473.6" stroke="#666" stroke-width="0.45"/>
<line x1="504.09999999999997" y1="481.5" x2="506.7" y2="481.5" stroke="#666" stroke-width="0.45"/>
<circle cx="502.3" cy="469.1" r="0.6" fill="#555"/>
<circle cx="506.7" cy="480.7" r="0.6" fill="#555"/>
<line x1="553.5" y1="461.2" x2="553.5" y2="472.3" stroke="#888" stroke-width="0.45"/>
<line x1="552.2" y1="461.2" x2="554.8" y2="461.2" stroke="#888" stroke-width="0.45"/>
<line x1="552.2" y1="472.3" x2="554.8" y2="472.3" stroke="#888" stroke-width="0.45"/>
<circle cx="556.1" cy="459.1" r="0.6" fill="#888"/>
<circle cx="553.5" cy="463.0" r="0.6" fill="#888"/>
<circle cx="553.0" cy="478.0" r="0.6" fill="#888"/>
<line x1="579.2" y1="433.4" x2="579.2" y2="446.8" stroke="#666" stroke-width="0.45"/>
<line x1="577.9000000000001" y1="433.4" x2="580.5" y2="433.4" stroke="#666" stroke-width="0.45"/>
<line x1="577.9000000000001" y1="446.8" x2="580.5" y2="446.8" stroke="#666" stroke-width="0.45"/>
<circle cx="579.2" cy="427.0" r="0.6" fill="#555"/>
<circle cx="579.2" cy="440.7" r="0.6" fill="#555"/>
<circle cx="582.4" cy="450.4" r="0.6" fill="#555"/>
<line x1="479.1" y1="451.2" x2="550.9" y2="451.2" stroke="#1a1a1a" stroke-width="1.7"/>
<line x1="512.80" y1="446.00" x2="512.80" y2="448.60" stroke="#1a1a1a" stroke-width="0.85" stroke-linecap="round"/>
<line x1="511.67" y1="446.65" x2="513.93" y2="447.95" stroke="#1a1a1a" stroke-width="0.85" stroke-linecap="round"/>
<line x1="513.93" y1="446.65" x2="511.67" y2="447.95" stroke="#1a1a1a" stroke-width="0.85" stroke-linecap="round"/>
<text x="451.54" y="469.8" font-size="4.4" text-anchor="middle" fill="#1a1a1a" transform="rotate(-90 451.54 469.8)" textLength="48.34" lengthAdjust="spacingAndGlyphs" stroke="#1a1a1a" stroke-width="0.05">Normalized p62/GAPDH</text>
<text x="492.45" y="531.2" font-size="4.3" text-anchor="middle" fill="#1a1a1a" textLength="7.73" lengthAdjust="spacingAndGlyphs" stroke="#1a1a1a" stroke-width="0.03">WT</text>
<text x="565.95" y="531.2" font-size="4.2" text-anchor="middle" fill="#1a1a1a" textLength="27.72" lengthAdjust="spacingAndGlyphs" stroke="#1a1a1a" stroke-width="0.03">FANCD2-null</text>
<line x1="450.10" y1="531.85" x2="450.10" y2="534.15" stroke="#111" stroke-width="0.7" stroke-linecap="round"/>
<line x1="449.10" y1="532.42" x2="451.10" y2="533.58" stroke="#111" stroke-width="0.7" stroke-linecap="round"/>
<line x1="451.10" y1="532.42" x2="449.10" y2="533.58" stroke="#111" stroke-width="0.7" stroke-linecap="round"/>
<text x="463.55" y="536.0" font-size="4.2" text-anchor="middle" fill="#1a1a1a" textLength="23.52" lengthAdjust="spacingAndGlyphs" stroke="#1a1a1a" stroke-width="0.03">P-value&lt;0.05</text>
</svg>
</body></html>
